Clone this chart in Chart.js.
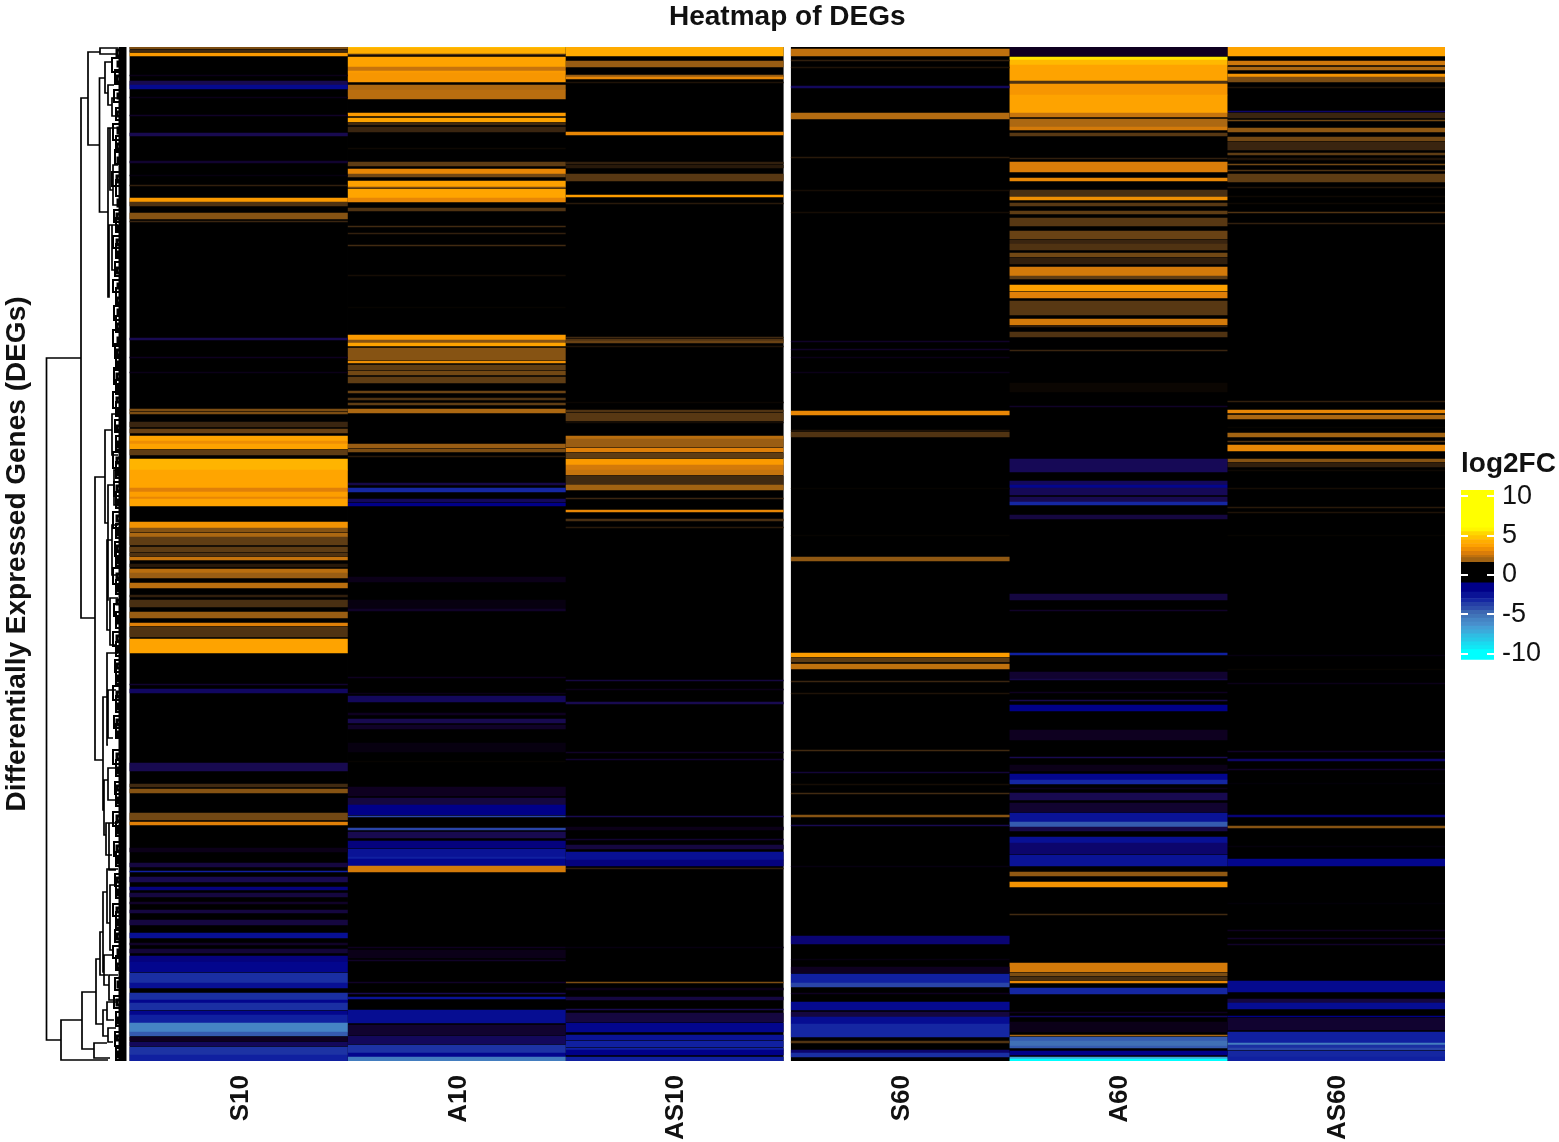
<!DOCTYPE html>
<html>
<head>
<meta charset="utf-8">
<title>Heatmap of DEGs</title>
<script src="https://cdn.jsdelivr.net/npm/chart.js@4/dist/chart.umd.min.js"></script>
<style>
  html, body { margin: 0; padding: 0; background: #fff; }
  body { width: 1559px; height: 1142px; position: relative; overflow: hidden; }
  canvas { position: absolute; filter: blur(0.5px); }
</style>
</head>
<body>
<canvas id="tree" width="100" height="1020" style="left:40px;top:44px"></canvas>
<canvas id="heat" width="1559" height="1142" style="left:0;top:0"></canvas>
<canvas id="key" width="119" height="244" style="left:1440px;top:440px"></canvas>
<script>
// gene rows are numbered 47..1061 top to bottom, each band is [fromRow, toRow, log2FC]
const columnNames = ['S10', 'A10', 'AS10', 'S60', 'A60', 'AS60'];
const columnCenters = [0.5, 1.5, 2.5, 3.537, 4.537, 5.537];
const keyTicks = [10, 5, 0, -5, -10];

const s10Bands = [
  [47,49,1.5],[50,52,0.8],[53,56,3.5],[75,76,-0.3],[81,85,-1],[85,89,-2.3],[97,98,-0.3],[115,116,-0.5],[133,136,-1],
  [161,163,-0.6],[175,176,-0.2],[185,186,0.6],[198,202,3.5],[202,206,1],[213,219,1.6],[221,222,0.7],
  [338,340,-1],[357,358,-0.4],[372,373,-0.3],
  [409,411,1.5],[412,414,1.5],[422,427,0.7],[429,433,1.3],[436,441,4],[441,444,3.2],[444,449,3.9],[450,455,1.2],
  [459,470,4.5],[470,488,4],[488,492,2.8],[492,497,3.7],[497,499,3],[499,506,3.9],
  [522,528,3.3],[528,532,1.6],[533,537,2],[537,545,1.2],[547,552,1.2],[553,556,1],[557,560,2.4],[564,567,0.5],
  [569,573,2.2],[573,578,1.8],[583,588,2.2],[595,597,0.6],[600,607,0.9],[612,618,1.8],[623,626,2.8],[627,637,1],
  [639,653,3.9],[684,685,-0.6],[689,693,-1.3],
  [763,771,-1],[784,787,0.8],[789,793,1.6],[813,820,1.4],[822,825,2.8],[848,852,-0.3],[863,867,-0.8],[871,872,-3],
  [877,882,-1],[887,890,-1.8],[893,897,-0.8],[902,904,-0.5],[910,913,-0.8],[920,925,-0.8],[933,938,-2.5],
  [943,945,-0.5],[949,953,-0.7],[956,962,-1.8],[962,972,-2.2],[973,983,-3.4],[983,988,-2.5],[993,1000,-3.4],
  [1000,1003,-2.2],[1003,1010,-3.4],[1011,1015,-2.2],[1015,1023,-3],[1023,1032,-5.8],[1032,1036,-4.5],
  [1037,1041,-0.4],[1042,1046,-1.2],[1047,1055,-3.5],[1055,1061,-3]
];

const a10Bands = [
  [47,48,4.8],[48,54,4.3],[54,55,1],[57,67,3.9],[67,71,2.4],[71,73,3.5],[73,82,3.4],[85,90,2],[90,99,2.2],
  [113,116,3.5],[118,122,3.9],[123,125,0.8],[127,132,0.7],[148,149,0.2],[162,166,1.2],[169,174,3],[174,177,1.4],
  [181,187,3.8],[187,188,1.5],[189,198,4],[198,202,3],[208,211,1],[226,227,0.8],[233,234,0.6],[245,246,0.8],
  [275,276,0.3],[307,308,0.1],[335,340,3.5],[340,343,1.6],[343,346,3.9],[348,360,1.6],[361,363,3.2],[365,370,1.2],
  [371,375,1.4],[377,383,1.2],[391,393,1.3],[398,400,1],[403,405,1.2],[409,413,2],[444,448,1.8],[449,452,1.5],
  [456,457,0.5],[483,485,-0.9],[488,492,-3.2],[499,502,-1.2],[503,506,-2],[577,582,-0.3],[600,609,-0.2],[609,611,-0.5],
  [677,678,-0.4],[693,694,-0.3],[696,702,-1.2],[713,715,-0.4],[719,723,-1],[725,729,-0.5],[743,752,-0.2],[761,762,0.1],
  [787,796,-0.4],[798,805,-0.8],[805,815,-2],[816,817,-4],[828,830,-4],[832,838,-1],[841,848,-1.8],[849,857,-2.6],
  [857,859,-3],[859,866,-2.2],[866,872,2.6],[947,948,-0.4],[950,958,-0.3],[960,961,-0.5],[982,983,-0.5],[993,994,-1],
  [997,999,-2.6],[1010,1023,-2.4],[1025,1035,-0.6],[1036,1044,-1.2],[1045,1053,-3.5],[1053,1057,-2.2],[1057,1061,-5.5]
];

const as10Bands = [
  [47,56,4.2],[61,67,1.8],[75,77,1.8],[77,79,3],[82,83,0.4],[132,135,3],[162,164,0.6],[165,168,0.5],[174,181,1.1],
  [195,197,3.6],[203,204,0.5],[337,338,0.8],[339,341,1],[341,343,1.3],[346,347,0.4],[402,403,0.15],[410,412,1],
  [413,421,1.1],[422,423,0.3],[436,439,2.2],[439,447,1.8],[448,452,2.8],[453,458,1.2],[459,465,3.5],[465,470,2.6],
  [470,475,2.4],[476,485,0.8],[485,490,1.9],[498,499,0.7],[510,512,3],[519,521,0.9],[527,528,0.5],
  [680,681,-0.8],[689,690,-0.3],[702,704,-1],[752,753,-0.5],[759,760,-0.6],[816,817,-1],[827,830,-0.3],[839,840,-0.6],
  [845,849,-0.8],[852,860,-2.5],[860,866,-1.8],[868,869,0.6],[947,948,-0.2],[982,983,1.5],[988,990,-0.3],[997,1000,-0.8],
  [1009,1010,-1],[1013,1022,-0.8],[1023,1032,-2.2],[1035,1040,-2.6],[1041,1047,-3],[1048,1050,-3],[1050,1055,-2],
  [1057,1061,-3]
];

const s60Bands = [
  [49,56,2.3],[60,61,0.6],[67,68,0.4],[86,88,-1.2],[113,119,2.1],[157,158,0.5],[190,191,0.3],[212,213,0.3],
  [341,342,-0.5],[349,350,-0.5],[357,358,-0.3],[372,373,-0.3],[411,415,3],[430,431,0.4],[432,437,1],[488,489,0.1],
  [535,536,0.1],[557,561,1.7],[653,657,3.6],[658,662,1.2],[664,669,2.3],[681,682,0.7],[693,694,0.4],[750,751,0.8],
  [772,773,-0.7],[784,785,0.3],[793,794,0.8],[815,817,1.6],[825,826,-1],[866,867,-0.2],[936,944,-1.6],[959,960,-0.2],
  [967,973,-0.4],[974,983,-3],[983,987,-4],[993,994,-0.4],[1002,1010,-2.3],[1012,1017,-0.8],[1017,1024,-2.4],
  [1024,1037,-3.2],[1041,1043,1],[1050,1053,-1.5],[1053,1057,-3.4]
];

const a60Bands = [
  [47,56,-0.4],[57,60,5.5],[60,65,4.6],[65,81,3.9],[81,84,1],[84,95,3.4],[95,113,3.9],[113,117,2.4],[119,127,2],
  [127,130,2.6],[133,136,1.1],[158,159,0.6],[162,172,2.7],[178,181,3],[190,197,0.9],[197,200,3.2],[203,206,1.1],
  [211,214,1.2],[218,226,1.1],[231,239,1.3],[240,244,0.7],[244,250,1],[253,257,1.4],[258,264,0.6],[267,276,2.6],
  [276,279,1.2],[285,291,3.8],[292,298,2.8],[301,315,1.1],[319,325,2.6],[326,327,0.6],[332,337,1],[350,351,0.7],
  [383,392,0.15],[406,407,-0.5],[459,472,-1.1],[481,485,-1.2],[485,488,-2.2],[488,495,-1.1],[497,502,-1],[502,505,-3.2],
  [515,519,-0.8],[594,600,-0.8],[610,611,-0.5],[653,655,-3],[672,679,-0.6],[679,680,-0.9],[692,693,-0.4],[700,701,-1],
  [705,711,-2],[730,740,-0.4],[757,758,-1],[765,771,-0.3],[774,780,-2.2],[780,784,-3.2],[788,789,-0.3],[793,800,-1],
  [803,812,-0.6],[813,822,-2.6],[822,827,-4.5],[827,831,-0.9],[837,843,-2.5],[843,854,-1.5],[855,866,-2.6],
  [872,876,1.7],[882,887,3.3],[914,915,0.8],[963,972,2.6],[973,976,1.5],[977,980,0.9],[981,983,3],[988,994,-3.2],
  [1012,1013,-0.4],[1016,1017,-1.3],[1022,1032,-0.3],[1035,1036,2],[1037,1041,-4.5],[1041,1046,-5],[1046,1048,-4.5],
  [1051,1055,-2],[1057,1059,-7],[1059,1061,-10]
];

const as60Bands = [
  [47,56,3.9],[61,65,2.5],[67,70,2],[74,77,3.3],[77,82,1.5],[87,88,0.4],[111,112,-1.5],[113,118,0.7],[120,121,1.4],
  [128,132,1.7],[137,141,1.4],[142,150,0.7],[153,155,1.2],[158,160,0.4],[164,165,1.4],[170,171,1],[174,182,1.2],
  [187,188,0.4],[196,197,0.2],[203,204,0.2],[212,213,1],[223,224,0.6],[401,402,0.6],[410,413,3],[415,419,2],
  [427,428,0.1],[433,437,1.9],[441,442,1],[445,451,3],[459,462,1.6],[463,467,0.6],[470,471,0.2],[488,489,0.3],
  [507,508,0.5],[512,513,0.4],[535,536,0.1],[655,656,-0.2],[669,670,0.1],[683,684,-0.3],[751,752,-0.5],[759,761,-1.4],
  [769,770,-0.5],[783,784,-0.1],[815,817,-1.7],[826,828,1.6],[846,847,-0.15],[859,866,-2.2],[903,904,-0.1],
  [930,931,-0.4],[938,939,-0.5],[944,945,-0.5],[981,992,-2.3],[999,1003,-0.8],[1003,1009,-2.4],[1016,1017,-2],
  [1018,1030,-0.6],[1032,1043,-3],[1043,1045,-5.5],[1045,1048,-3.4],[1048,1050,-4],[1051,1057,-3.2],[1057,1061,-3]
];

const columnBands = [s10Bands, a10Bands, as10Bands, s60Bands, a60Bands, as60Bands];

// colour key cells: [from, to, log2FC shown]
const keyCells = [
  [10.8,6,6.5],[6,5.5,5.8],[5.5,5,5.2],[5,4.5,4.8],[4.5,4,4.3],[4,3.5,3.8],[3.5,3,3.2],[3,2.5,2.7],[2.5,2.2,2.3],
  [2.2,1.6,1.9],[1.6,-1,0],[-1,-2.2,-2],[-2.2,-3,-2.6],[-3,-3.5,-3.2],[-3.5,-4,-3.8],[-4,-4.5,-4.2],[-4.5,-5,-4.8],
  [-5,-5.5,-5.2],[-5.5,-6,-5.8],[-6,-6.5,-6.2],[-6.5,-7,-6.8],[-7,-7.5,-7.2],[-7.5,-8,-7.8],[-8,-8.5,-8.2],
  [-8.5,-9,-8.8],[-9,-9.5,-9.2],[-9.5,-10.8,-10]
];

// dendrogram merges: [height, rowA, childHeightA, rowB, childHeightB]
const treeTrunk = [
  [46.5,358,81,1040,61],[81,98,88,618,95],[88,52,100,145,99.5],[100,48,118,54,118],[99.5,78,105,212,108],
  [105,62,113,93,108],[108,85,114,105,112],[112,98,118,116,118],[108,128,110,297,109],[110,128,118,190,113],
  [113,165,118,205,118],[109,225,112,297,108],[112,225,118,270,114],[95,477,105,760,103],[105,430,112,523,108],
  [112,414,118,455,118],[108,485,114,600,107],[114,470,118,505,118],[107,540,112,630,110],[112,525,118,575,116],
  [110,598,118,645,116],[103,697,107,810,104],[107,653,118,745,108],[108,690,116,738,113],[104,780,108,835,106],
  [108,768,118,800,116],[106,823,109,855,112],[109,823,118,870,116],[61,1020,82,1060,108],[82,992,96,1049,94],
  [96,959,100,1024,103],[100,932,103,975,108],[103,892,107,972,104],[107,869,118,923,110],[110,885,116,950,113],
  [104,955,112,985,109],[109,975,118,1000,116],[94,1043,107,1058,110],[103,1010,107,1036,108],[107,1002,118,1020,114],
  [108,1028,116,1042,113]
];
const treeFine = [
  [112,58,72],[115,70,84],[114,90,102],[116,108,120],[113,124,140],[116,136,152],[115,150,164],[112,172,186],
  [116,180,196],[114,210,222],[116,218,232],[113,236,248],[116,244,258],[115,262,276],[113,280,292],[116,288,304],
  [114,306,320],[116,316,332],[113,330,346],[115,344,358],[116,356,370],[114,368,384],[116,380,394],[113,392,408],
  [116,402,416],[115,420,432],[116,436,450],[113,452,468],[116,462,478],[114,482,496],[116,492,508],[113,512,528],
  [116,524,538],[115,542,556],[116,552,566],[113,568,584],[116,580,594],[114,604,616],[116,612,628],[113,632,646],
  [116,642,656],[115,660,672],[116,668,684],[113,686,700],[116,696,712],[114,716,728],[116,724,738],[113,750,764],
  [116,760,776],[115,782,794],[116,790,806],[113,812,826],[116,822,836],[114,842,856],[116,852,866],[115,874,886],
  [116,882,898],[113,904,916],[116,912,928],[115,930,942],[113,946,958],[116,956,970],[115,978,990],[114,996,1008],
  [116,1012,1026],[115,1032,1046],[116,1048,1060]
];
const treeTwigs = [
  [117,50,56],[118,62,66],[117,76,82],[118,94,98],[117,112,116],[118,128,133],[117,144,149],[118,158,163],[117,176,182],
  [118,200,206],[117,214,219],[118,226,230],[117,240,245],[118,252,257],[117,268,273],[118,284,288],[117,298,303],
  [118,310,315],[117,324,329],[118,338,342],[117,350,355],[118,362,367],[117,374,379],[118,386,391],[117,398,402],
  [118,410,415],[117,426,430],[118,442,447],[117,458,463],[118,470,475],[117,486,491],[118,500,505],[117,516,521],
  [118,530,535],[117,546,551],[118,558,563],[117,574,578],[118,586,591],[117,600,604],[118,618,623],[117,636,641],
  [118,648,652],[117,664,668],[118,676,681],[117,692,697],[118,704,709],[117,720,725],[118,732,737],[117,754,759],
  [118,768,773],[117,786,790],[118,798,803],[117,816,821],[118,828,833],[117,846,851],[118,858,863],[117,878,882],
  [118,890,895],[117,908,912],[118,920,925],[117,934,939],[118,950,955],[117,964,968],[118,982,987],[117,1000,1005],
  [118,1018,1023],[117,1036,1040],[118,1052,1057]
];
const treeLeafRows = [47, 1061];

const colourStops = [
  [-10,'#00ffff'],[-6.5,'#4a96d2'],[-5,'#4070b5'],[-4,'#2a45a8'],[-3,'#1020a0'],[-2,'#000088'],[-1,'#180a50'],
  [-0.4,'#0e0020'],[0,'#000000'],[0.3,'#150c04'],[0.7,'#3a2510'],[1.2,'#5f3d14'],[2,'#ac6812'],[2.8,'#e08008'],
  [3.5,'#fb9a00'],[4,'#ffa500'],[4.5,'#ffb400'],[5.5,'#ffe600'],[6,'#ffff00']
];

function hexToRgb(h) {
  return [parseInt(h.slice(1, 3), 16), parseInt(h.slice(3, 5), 16), parseInt(h.slice(5, 7), 16)];
}

function colourOf(v) {
  if (v <= colourStops[0][0]) return colourStops[0][1];
  for (let i = 1; i < colourStops.length; i++) {
    if (v <= colourStops[i][0]) {
      const a = colourStops[i - 1], b = colourStops[i];
      const t = (v - a[0]) / (b[0] - a[0]);
      const ca = hexToRgb(a[1]), cb = hexToRgb(b[1]);
      const c = ca.map(function (x, k) { return Math.round(x + (cb[k] - x) * t); });
      return 'rgb(' + c.join(',') + ')';
    }
  }
  return colourStops[colourStops.length - 1][1];
}

function bandPoint(x, band) {
  return { x: x, y: [band[0], band[1]], level: band[2] };
}

function bandColour(ctx) {
  return ctx.raw ? colourOf(ctx.raw.level) : '#000';
}

const labelFont = 'Liberation Sans';

function buildHeatmap() {
  const datasets = columnBands.map(function (bands, i) {
    // whole column first as the black 0 background
    const rows = [[47, 1061, 0]].concat(bands);
    return {
      label: columnNames[i],
      data: rows.map(function (b) { return bandPoint(columnCenters[i], b); }),
      backgroundColor: bandColour,
      borderWidth: 0,
      barThickness: 218,
      grouped: false,
    };
  });
  new Chart(document.getElementById('heat'), {
    type: 'bar',
    data: { datasets: datasets },
    options: {
      responsive: false,
      animation: false,
      events: [],
      layout: { autoPadding: false, padding: { left: 0, right: 114, top: 0, bottom: 0 } },
      plugins: {
        legend: { display: false },
        tooltip: { enabled: false },
        title: {
          display: true,
          text: 'Heatmap of DEGs',
          fullSize: false,
          color: '#111',
          font: { family: labelFont, size: 28, weight: 'bold', lineHeight: 1.2 },
          padding: { top: 0, bottom: 13.4 },
        },
      },
      scales: {
        x: {
          type: 'linear',
          offset: false,
          min: 0,
          max: 6.037,
          grid: { display: false, drawTicks: false },
          border: { display: false },
          afterBuildTicks: function (scale) {
            scale.ticks = columnCenters.map(function (v) { return { value: v }; });
          },
          afterFit: function (scale) { scale.height = 81; },
          ticks: {
            autoSkip: false,
            minRotation: 90,
            maxRotation: 90,
            padding: 14,
            labelOffset: 2,
            color: '#111',
            font: { family: labelFont, size: 26, weight: 'bold' },
            callback: function (v) { return columnNames[columnCenters.indexOf(v)]; },
          },
        },
        y: {
          reverse: true,
          min: 47,
          max: 1061,
          grid: { display: false, drawTicks: false },
          border: { display: false },
          ticks: { display: false },
          afterFit: function (scale) { scale.width = 129.5; },
          title: {
            display: true,
            text: 'Differentially Expressed Genes (DEGs)',
            color: '#111',
            padding: { top: 0, bottom: 0 },
            font: { family: labelFont, size: 28, weight: 'bold', lineHeight: 1.2 },
          },
        },
      },
    },
  });
}

function bracketPath(list) {
  const path = [];
  list.forEach(function (m) {
    path.push({ x: 120, y: m[1] }, { x: m[0], y: m[1] }, { x: m[0], y: m[2] }, { x: 120, y: m[2] }, { x: null, y: null });
  });
  return path;
}

function buildTree() {
  const trunk = [];
  treeTrunk.forEach(function (m) {
    trunk.push({ x: m[2], y: m[1] }, { x: m[0], y: m[1] }, { x: m[0], y: m[3] }, { x: m[4], y: m[3] }, { x: null, y: null });
  });
  new Chart(document.getElementById('tree'), {
    type: 'scatter',
    data: {
      datasets: [
        { data: trunk, showLine: true, spanGaps: false, borderColor: '#000', borderWidth: 1.7, pointRadius: 0 },
        { data: bracketPath(treeFine), showLine: true, spanGaps: false, borderColor: '#000', borderWidth: 2, pointRadius: 0 },
        { data: bracketPath(treeTwigs), showLine: true, spanGaps: false, borderColor: '#000', borderWidth: 3, pointRadius: 0 },
        {
          data: treeLeafRows.map(function (r) { return { x: 122.5, y: r }; }),
          showLine: true, borderColor: '#000', borderWidth: 8, pointRadius: 0,
        },
      ],
    },
    options: {
      responsive: false,
      animation: false,
      events: [],
      layout: { autoPadding: false },
      plugins: { legend: { display: false }, tooltip: { enabled: false }, title: { display: false } },
      scales: {
        x: { type: 'linear', display: false, min: 40, max: 140 },
        y: { type: 'linear', display: false, reverse: true, min: 44, max: 1064 },
      },
    },
  });
}

function buildKey() {
  new Chart(document.getElementById('key'), {
    type: 'bar',
    data: {
      datasets: [{
        data: keyCells.map(function (c) { return bandPoint(0.5, c); }),
        backgroundColor: bandColour,
        borderWidth: 0,
        barThickness: 33,
        grouped: false,
      }],
    },
    options: {
      responsive: false,
      animation: false,
      events: [],
      layout: { autoPadding: false, padding: { left: 21, right: 0, top: 0, bottom: 3 } },
      plugins: {
        legend: { display: false },
        tooltip: { enabled: false },
        title: {
          display: true,
          text: 'log2FC',
          align: 'start',
          color: '#111',
          font: { family: labelFont, size: 28, weight: 'bold', lineHeight: 1.2 },
          padding: { top: 7, bottom: 9.4 },
        },
      },
      scales: {
        x: { type: 'linear', offset: false, display: false, min: 0, max: 1 },
        y: {
          position: 'right',
          min: -10.8,
          max: 10.8,
          grid: { color: '#fff', lineWidth: 2, z: 1, drawTicks: false },
          border: { display: false, dash: [7, 19, 7, 20] },
          afterBuildTicks: function (scale) {
            scale.ticks = keyTicks.map(function (v) { return { value: v }; });
          },
          afterFit: function (scale) { scale.width = 65; },
          ticks: {
            autoSkip: false,
            padding: 8,
            color: '#111',
            font: { family: labelFont, size: 27 },
          },
        },
      },
    },
  });
}

document.addEventListener('DOMContentLoaded', function () {
  buildTree();
  buildHeatmap();
  buildKey();
});
</script>
</body>
</html>
